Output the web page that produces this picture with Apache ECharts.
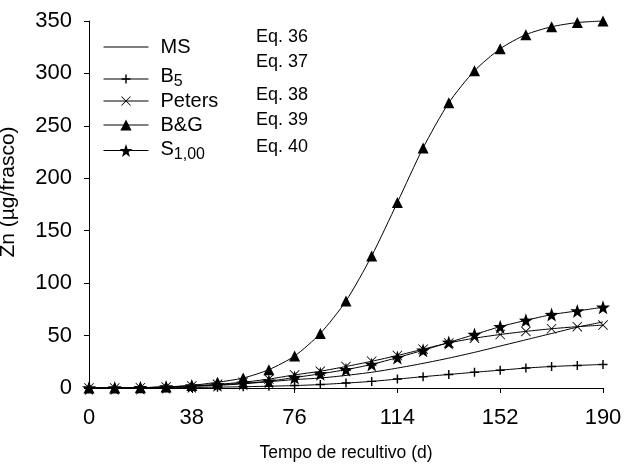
<!DOCTYPE html>
<html>
<head>
<meta charset="utf-8">
<script src="https://cdn.jsdelivr.net/npm/echarts@6/dist/echarts.min.js"></script>
<style>
  html, body { margin: 0; padding: 0; background: #fff; }
  #chart { width: 625px; height: 473px; }
</style>
</head>
<body>
<div id="chart"></div>
<script>
// Sampling days (every 9.5 days from 0 to 190)
var days = [0, 9.5, 19, 28.5, 38, 47.5, 57, 66.5, 76, 85.5, 95, 104.5, 114, 123.5, 133, 142.5, 152, 161.5, 171, 180.5, 190];

// Zn accumulated (µg/frasco) for each model
var msValues     = [0, 0, 0.3, 0.8, 1.5, 2.5, 4, 6, 8, 9.5, 12, 15, 19, 23.5, 28.5, 34, 40, 46, 52, 58, 63];
var b5Values     = [0, 0, 0.1, 0.3, 0.5, 0.8, 1.2, 1.7, 2.3, 3.3, 4.7, 6.3, 8.5, 10.8, 12.9, 15, 17, 19, 20.5, 21.5, 22.5];
var petersValues = [0, 0, 0.3, 1, 2, 3.5, 5.5, 8.5, 12.5, 16, 20.5, 25.5, 31, 37, 43, 47.5, 51, 54, 56.5, 58.5, 60];
var bgValues     = [0, 0, 0.3, 1, 2.5, 5.5, 9.5, 17.5, 30.5, 52, 83, 126, 177, 229, 272, 302.5, 323.5, 337, 344.5, 348.5, 350];
var s100Values   = [0, 0, 0.3, 1, 2, 3, 4.5, 6.5, 10, 13.5, 17.5, 22.5, 29, 36, 43.5, 51, 58.5, 64.5, 70, 73.5, 77];

// Series names and the equation each one refers to
var seriesNames = ['MS', 'B5', 'Peters', 'B&G', 'S1,00'];
var legendLabels = ['MS', 'B{sub|5}', 'Peters', 'B&G', 'S{sub|1,00}'];
var equationLabels = ['Eq. 36', 'Eq. 37', 'Eq. 38', 'Eq. 39', 'Eq. 40'];

// Axis ticks
var xTicks = [0, 38, 76, 114, 152, 190];
var yTicks = [0, 50, 100, 150, 200, 250, 300, 350];

var FONT = 'Liberation Sans, Arial, sans-serif';

var SYMBOL_PLUS = 'path://M-1.6,-10 L1.6,-10 L1.6,-1.6 L10,-1.6 L10,1.6 L1.6,1.6 L1.6,10 L-1.6,10 L-1.6,1.6 L-10,1.6 L-10,-1.6 L-1.6,-1.6 Z';
var SYMBOL_CROSS = 'path://M-10,-8.8 L-8.8,-10 L0,-1.2 L8.8,-10 L10,-8.8 L1.2,0 L10,8.8 L8.8,10 L0,1.2 L-8.8,10 L-10,8.8 L-1.2,0 Z';
var SYMBOL_STAR = 'path://M0,-10 L2.35,-3.24 L9.51,-3.09 L3.80,1.24 L5.88,8.09 L0,4.1 L-5.88,8.09 L-3.80,1.24 L-9.51,-3.09 L-2.35,-3.24 Z';

var seriesValues = [msValues, b5Values, petersValues, bgValues, s100Values];
var symbols = ['none', SYMBOL_PLUS, SYMBOL_CROSS, 'triangle', SYMBOL_STAR];
var symbolSizes = [0, 9, 10, 11, 14];

function pairs(vals) {
  return days.map(function (d, i) { return [d, vals[i]]; });
}

var series = seriesNames.map(function (name, k) {
  return {
    name: name,
    type: 'line',
    data: pairs(seriesValues[k]),
    smooth: 0.25,
    clip: false,
    symbol: symbols[k],
    symbolSize: symbolSizes[k],
    showSymbol: symbols[k] !== 'none',
    lineStyle: { color: '#000', width: 1 },
    itemStyle: { color: '#000', borderWidth: 0 },
    emphasis: { disabled: true },
    animation: false,
    z: 2 + k
  };
});

// One legend block per row so each row sits at its own height
var legendRowY = [44, 72, 97, 122, 147];
var legendIconH = [14, 11, 12, 14, 16];
var legendTextLift = [0, 5, 0, 0, 3];
var legends = seriesNames.map(function (name, k) {
  return {
    data: [name],
    left: 103,
    top: legendRowY[k] - legendIconH[k] / 2,
    padding: 0,
    itemWidth: 45,
    itemHeight: legendIconH[k],
    selectedMode: false,
    formatter: function () { return legendLabels[k]; },
    textStyle: {
      fontFamily: FONT,
      fontSize: 20,
      color: '#000',
      padding: [0, 0, legendTextLift[k], 7],
      rich: {
        sub: { fontFamily: FONT, fontSize: 16, color: '#000', padding: [11, 0, 0, 0] }
      }
    },
    lineStyle: { color: '#000', width: 1 },
    itemStyle: k === 0
      ? { color: 'rgba(0,0,0,0)', borderWidth: 0 }
      : { color: '#000', borderWidth: 0 }
  };
});

var eqRowY = [38, 63.5, 96.5, 121.5, 148];
var graphics = equationLabels.map(function (t, k) {
  return {
    type: 'text',
    left: 256,
    top: eqRowY[k] - 10,
    style: { text: t, fontFamily: FONT, fontSize: 18, fill: '#000' }
  };
});

var chart = echarts.init(document.getElementById('chart'), null, { renderer: 'canvas' });
chart.setOption({
  animation: false,
  backgroundColor: '#fff',
  grid: { left: 89, right: 22, top: 21, bottom: 85, containLabel: false, outerBoundsMode: 'none' },
  xAxis: {
    type: 'value',
    min: xTicks[0],
    max: xTicks[xTicks.length - 1],
    interval: xTicks[1] - xTicks[0],
    name: 'Tempo de recultivo (d)',
    nameLocation: 'middle',
    nameGap: 56,
    nameTextStyle: { fontFamily: FONT, fontSize: 17.5, color: '#000' },
    axisLine: { lineStyle: { color: '#000', width: 1 } },
    axisTick: { show: true, inside: false, length: 5, lineStyle: { color: '#000' } },
    axisLabel: { fontFamily: FONT, fontSize: 22, color: '#000', margin: 19 },
    splitLine: { show: false }
  },
  yAxis: {
    type: 'value',
    min: yTicks[0],
    max: yTicks[yTicks.length - 1],
    interval: yTicks[1] - yTicks[0],
    name: 'Zn (µg/frasco)',
    nameLocation: 'middle',
    nameGap: 70,
    nameTextStyle: { fontFamily: FONT, fontSize: 21, color: '#000', padding: [0, 0, 0, 25] },
    axisLine: { show: true, lineStyle: { color: '#000', width: 1 } },
    axisTick: { show: true, inside: false, length: 5, lineStyle: { color: '#000' } },
    axisLabel: { fontFamily: FONT, fontSize: 22, color: '#000', margin: 17 },
    splitLine: { show: false }
  },
  legend: legends,
  graphic: graphics,
  series: series
});
</script>
</body>
</html>
